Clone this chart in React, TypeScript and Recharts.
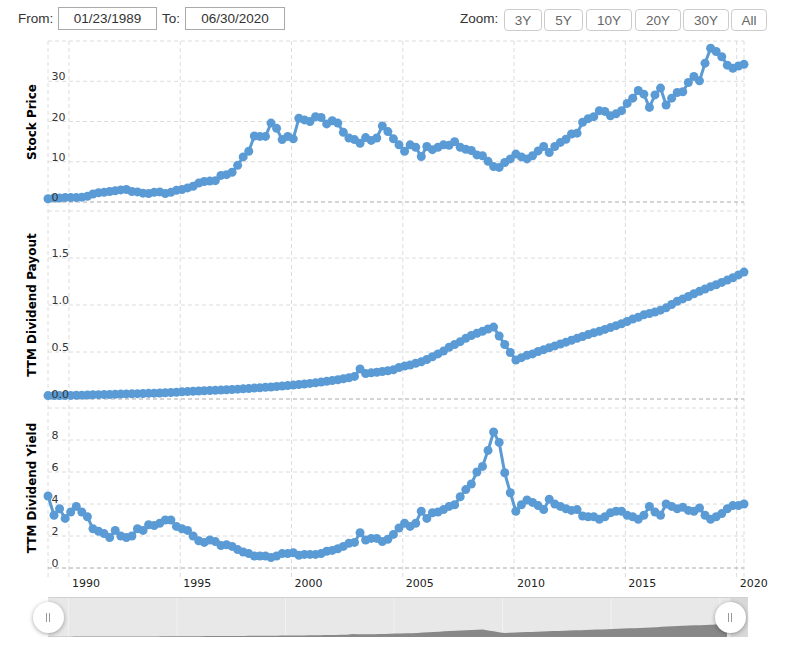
import { LineChart, Line, XAxis, YAxis, CartesianGrid, ReferenceLine, AreaChart, Area, ReferenceArea } from 'recharts'

// first point is 01/23/1989, the rest are quarterly readings
const FIRST_DATE = 1989.06
const FIRST_QUARTER = 1989.33
const LAST_DATE = 2020.33
const NAV_END = 2021.3
const SELECT_END = 2020.5

const STOCK_PRICE = [
  0.8,
  1.0, 1.0, 1.1, 1.1, 1.1, 1.2, 1.4, 2.0, 2.3, 2.4,
  2.6, 2.8, 3.0, 3.1, 2.6, 2.5, 2.2, 2.1, 2.4, 2.5,
  2.1, 2.4, 2.9, 3.1, 3.5, 3.9, 4.7, 5.1, 5.2, 5.3,
  6.6, 6.8, 7.4, 9.1, 11.2, 12.6, 16.4, 16.3, 16.3, 19.6,
  18.3, 15.5, 16.3, 15.7, 20.8, 20.4, 20.0, 21.2, 21.0, 19.4,
  20.2, 19.6, 17.3, 15.9, 15.5, 14.6, 16.0, 15.3, 15.9, 18.9,
  17.5, 15.7, 14.2, 12.6, 14.2, 13.6, 11.3, 13.8, 13.0, 13.6,
  14.2, 14.1, 15.0, 13.6, 13.1, 12.8, 11.7, 11.5, 10.1, 8.8,
  8.6, 9.8, 10.7, 11.9, 11.2, 10.7, 11.5, 12.7, 13.8, 12.3,
  13.8, 14.8, 15.6, 16.9, 17.1, 19.8, 20.7, 21.2, 22.7, 22.5,
  21.4, 21.9, 22.7, 24.5, 25.8, 27.7, 26.8, 23.5, 26.6, 28.3,
  24.1, 25.8, 27.2, 27.4, 29.7, 31.2, 30.1, 34.5, 38.2, 37.4,
  36.1, 34.0, 33.2, 33.8, 34.2,
]

const DIVIDEND_PAYOUT = [
  0.036,
  0.036, 0.037, 0.037, 0.038, 0.040, 0.041, 0.043, 0.045, 0.046, 0.047,
  0.048, 0.050, 0.052, 0.054, 0.055, 0.057, 0.058, 0.060, 0.062, 0.063,
  0.066, 0.069, 0.072, 0.076, 0.079, 0.082, 0.085, 0.088, 0.090, 0.092,
  0.095, 0.098, 0.101, 0.105, 0.108, 0.112, 0.116, 0.120, 0.124, 0.128,
  0.133, 0.138, 0.143, 0.148, 0.154, 0.160, 0.166, 0.172, 0.180, 0.188,
  0.196, 0.205, 0.215, 0.226, 0.240, 0.320, 0.270, 0.278, 0.285, 0.292,
  0.300, 0.310, 0.335, 0.350, 0.362, 0.380, 0.395, 0.420, 0.450, 0.480,
  0.510, 0.550, 0.580, 0.610, 0.645, 0.675, 0.700, 0.720, 0.745, 0.765,
  0.670, 0.580, 0.495, 0.415, 0.440, 0.465, 0.480, 0.505, 0.525, 0.545,
  0.565, 0.585, 0.605, 0.625, 0.645, 0.665, 0.685, 0.705, 0.720, 0.740,
  0.760, 0.780, 0.800, 0.825, 0.850, 0.870, 0.895, 0.910, 0.925, 0.945,
  0.970, 1.005, 1.040, 1.065, 1.090, 1.120, 1.145, 1.170, 1.195, 1.215,
  1.240, 1.265, 1.290, 1.320, 1.350,
]

const DIVIDEND_YIELD = [
  4.5,
  3.3, 3.7, 3.1, 3.5, 3.85, 3.5, 3.2, 2.45, 2.3, 2.15,
  1.9, 2.35, 2.0, 1.9, 2.0, 2.45, 2.35, 2.7, 2.65, 2.8,
  3.0, 3.0, 2.6, 2.45, 2.35, 2.0, 1.7, 1.6, 1.75, 1.65,
  1.4, 1.45, 1.35, 1.15, 1.0, 0.9, 0.75, 0.75, 0.75, 0.65,
  0.75, 0.9, 0.9, 0.95, 0.8, 0.85, 0.85, 0.85, 0.9, 1.05,
  1.1, 1.2, 1.35, 1.55, 1.6, 2.2, 1.75, 1.85, 1.85, 1.65,
  1.8, 2.1, 2.5, 2.8, 2.6, 2.8, 3.55, 3.1, 3.45, 3.5,
  3.65, 3.85, 3.95, 4.45, 4.9, 5.25, 6.0, 6.35, 7.35, 8.5,
  7.85, 5.95, 4.7, 3.55, 3.95, 4.25, 4.1, 3.9, 3.65, 4.3,
  4.0, 3.85, 3.7, 3.6, 3.65, 3.25, 3.2, 3.2, 3.05, 3.2,
  3.45, 3.55, 3.55, 3.3, 3.2, 3.05, 3.3, 3.85, 3.5, 3.3,
  4.0, 3.85, 3.7, 3.8, 3.6, 3.55, 3.75, 3.3, 3.05, 3.2,
  3.4, 3.7, 3.9, 3.9, 4.0,
]

const YEAR_TICKS = [1990, 1995, 2000, 2005, 2010, 2015, 2020]
const PRICE_GRID = [0, 10, 20, 30, 40]
const PRICE_TICKS = [0, 10, 20, 30]
const PAYOUT_GRID = [0, 0.5, 1, 1.5, 2]
const PAYOUT_TICKS = [0, 0.5, 1, 1.5]
const YIELD_GRID = [0, 2, 4, 6, 8, 10]
const YIELD_TICKS = [0, 2, 4, 6, 8]
const ZOOM_BUTTONS = ['3Y', '5Y', '10Y', '20Y', '30Y', 'All']

const data = STOCK_PRICE.map((price, i) => ({
  date: i === 0 ? FIRST_DATE : FIRST_QUARTER + (i - 1) * 0.25,
  price,
  payout: DIVIDEND_PAYOUT[i],
  yld: DIVIDEND_YIELD[i],
}))

const BLUE = '#5b9bd5'
const FONT = "'DejaVu Sans', Verdana, sans-serif"
const UI_FONT = "'Liberation Sans', Arial, sans-serif"

const W = 798
const CHART_H = 600
const X_AXIS_H = 20
const PLOT_LEFT = 48
const PLOT_RIGHT = 744
const PLOT_TOP = 41
const PLOT_BOTTOM = 577
const MARGIN = { top: PLOT_TOP, left: PLOT_LEFT, right: W - PLOT_RIGHT, bottom: CHART_H - PLOT_BOTTOM - X_AXIS_H }
// the overlay hides its x axis, which then takes no room
const OVERLAY_MARGIN = { ...MARGIN, bottom: CHART_H - PLOT_BOTTOM }

// each panel is a band of the shared plot; stretch the axis domain so the band lands in place
function bandDomain(max: number, yTop: number, yBottom: number): [number, number] {
  const ppu = (yBottom - yTop) / max
  return [-(PLOT_BOTTOM - yBottom) / ppu, max + (yTop - PLOT_TOP) / ppu]
}

const PANELS = [
  { id: 'price', key: 'price', title: 'Stock Price', domain: bandDomain(40, 41, 202), grid: PRICE_GRID, ticks: PRICE_TICKS, fmt: (v: number) => String(v), mid: 122 },
  { id: 'payout', key: 'payout', title: 'TTM Dividend Payout', domain: bandDomain(2, 211, 399), grid: PAYOUT_GRID, ticks: PAYOUT_TICKS, fmt: (v: number) => v.toFixed(1), mid: 305 },
  { id: 'yld', key: 'yld', title: 'TTM Dividend Yield', domain: bandDomain(10, 408, 568), grid: YIELD_GRID, ticks: YIELD_TICKS, fmt: (v: number) => String(v), mid: 488 },
]

const yLabel = (text: string) => (props: any) => {
  const vb = props.viewBox || {}
  return (
    <text x={vb.x + 3.5} y={vb.y - 1} fontSize={11} fill="#333" fontFamily={FONT}>
      {text}
    </text>
  )
}

const xTick = (props: any) => (
  <text x={props.x + 3} y={587} fontSize={11} fill="#222" fontFamily={FONT}>
    {props.payload.value}
  </text>
)

const navTick = (props: any) => (
  <text x={props.x + 3} y={35} fontSize={11} fill="#fff" fontFamily={FONT}>
    {props.payload.value}
  </text>
)

function Handle({ left }: { left: number }) {
  return (
    <div
      style={{
        position: 'absolute', left: left - 15.5, top: 617 - 15.5, width: 31, height: 31,
        borderRadius: '50%', background: '#fff', boxShadow: '0 1px 4px rgba(0,0,0,0.35)',
      }}
    >
      <div style={{ position: 'absolute', left: 13, top: 11, width: 1, height: 9, background: '#999' }} />
      <div style={{ position: 'absolute', left: 16, top: 11, width: 1, height: 9, background: '#999' }} />
    </div>
  )
}

const labelStyle = { position: 'absolute' as const, top: 11, fontSize: 13.5, color: '#333', fontFamily: UI_FONT }
const boxStyle = {
  position: 'absolute' as const, top: 7, height: 23, boxSizing: 'border-box' as const,
  border: '1px solid #aaa', fontSize: 13.5, color: '#333', fontFamily: UI_FONT,
  display: 'flex', alignItems: 'center', justifyContent: 'center',
}
const BUTTON_POS = [
  { left: 504, width: 38 }, { left: 544, width: 39 }, { left: 586, width: 46 },
  { left: 635, width: 46 }, { left: 683, width: 46 }, { left: 731, width: 36 },
]

export default function App() {
  return (
    <div style={{ position: 'absolute', left: 0, top: 0, width: W, height: 650, background: '#fff', overflow: 'hidden' }}>
      <span style={{ ...labelStyle, left: 18 }}>From:</span>
      <div style={{ ...boxStyle, left: 58, width: 99 }}>01/23/1989</div>
      <span style={{ ...labelStyle, left: 162 }}>To:</span>
      <div style={{ ...boxStyle, left: 185, width: 100 }}>06/30/2020</div>
      <span style={{ ...labelStyle, left: 460 }}>Zoom:</span>
      {ZOOM_BUTTONS.map((b, i) => (
        <div
          key={b}
          style={{
            ...boxStyle, top: 9, height: 22, left: BUTTON_POS[i].left, width: BUTTON_POS[i].width,
            border: '1px solid #ccc', borderRadius: 4, color: '#666',
          }}
        >
          {b}
        </div>
      ))}

      <div style={{ position: 'absolute', left: 0, top: 0 }}>
        <LineChart width={W} height={CHART_H} data={data} margin={MARGIN}>
          <CartesianGrid yAxisId="price" horizontal={false} stroke="#dcdcdc" strokeDasharray="4 3" />
          <XAxis
            type="number"
            dataKey="date"
            domain={[FIRST_DATE, LAST_DATE]}
            ticks={YEAR_TICKS}
            interval={0}
            height={X_AXIS_H}
            axisLine={false}
            tickLine={false}
            tick={xTick}
          />
          {PANELS.map((p) => (
            <YAxis key={p.id} yAxisId={p.id} type="number" domain={p.domain} allowDataOverflow hide />
          ))}
          {PANELS.map((p) =>
            p.grid.map((v) => (
              <ReferenceLine
                key={p.id + v}
                yAxisId={p.id}
                y={v}
                stroke={v === 0 ? '#aaa' : '#dcdcdc'}
                strokeDasharray="4 3"
              />
            )),
          )}
          {PANELS.map((p) => (
            <Line
              key={p.id}
              yAxisId={p.id}
              dataKey={p.key}
              type="linear"
              stroke={BLUE}
              strokeWidth={3}
              dot={{ r: 4.5, fill: BLUE, stroke: BLUE, strokeWidth: 0 }}
              activeDot={false}
              isAnimationActive={false}
            />
          ))}
        </LineChart>
      </div>

      {/* tick labels sit above the series, so they go on an overlay chart with the same scales */}
      <div style={{ position: 'absolute', left: 0, top: 0, pointerEvents: 'none' }}>
        <LineChart width={W} height={CHART_H} data={data} margin={OVERLAY_MARGIN}>
          <XAxis type="number" dataKey="date" domain={[FIRST_DATE, LAST_DATE]} hide />
          {PANELS.map((p) => (
            <YAxis key={p.id} yAxisId={p.id} type="number" domain={p.domain} allowDataOverflow hide />
          ))}
          {PANELS.map((p) =>
            p.ticks.map((v) => (
              <ReferenceLine
                key={'l' + p.id + v}
                yAxisId={p.id}
                y={v}
                stroke="none"
                label={yLabel(p.fmt(v))}
              />
            )),
          )}
        </LineChart>
      </div>

      {PANELS.map((p) => (
        <div
          key={p.id}
          style={{
            position: 'absolute', left: 32, top: p.mid, transform: 'translate(-50%, -50%) rotate(-90deg)',
            whiteSpace: 'nowrap', fontFamily: FONT, fontWeight: 'bold', fontSize: 12, color: '#000',
          }}
        >
          {p.title}
        </div>
      ))}

      <div style={{ position: 'absolute', left: 48, top: 597, width: 700, height: 40, background: '#e8e8e8', borderTop: '1px solid #d0d0d0', boxSizing: 'border-box' }}>
        <AreaChart width={700} height={39} data={data} margin={{ top: 0, left: 0, right: 0, bottom: 0 }}>
          <CartesianGrid horizontal={false} stroke="#f2f2f2" />
          <XAxis
            type="number"
            dataKey="date"
            domain={[FIRST_DATE, NAV_END]}
            ticks={YEAR_TICKS}
            interval={0}
            height={0}
            axisLine={false}
            tickLine={false}
            tick={navTick}
          />
          <YAxis hide domain={[0, 4]} />
          <Area
            dataKey="payout"
            type="linear"
            stroke="none"
            fill="#888"
            fillOpacity={1}
            isAnimationActive={false}
          />
          <ReferenceArea x1={SELECT_END} x2={NAV_END} fill="#bbb" fillOpacity={0.35} stroke="none" />
        </AreaChart>
      </div>
      <Handle left={48} />
      <Handle left={730.5} />
    </div>
  )
}
